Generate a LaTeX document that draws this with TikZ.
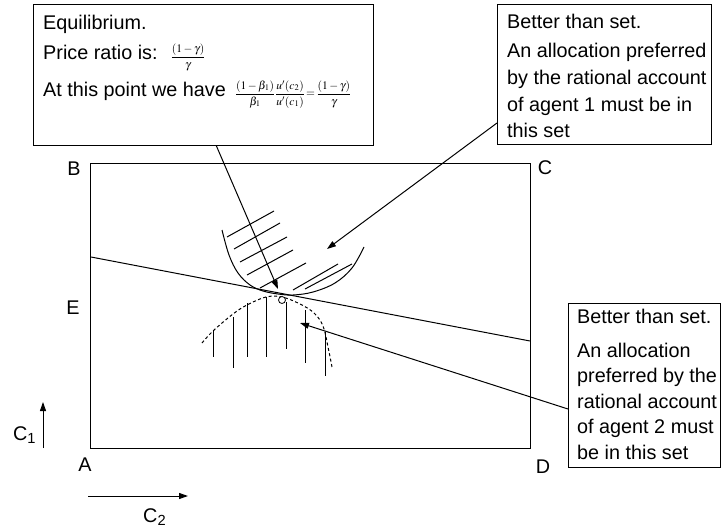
\documentclass[tikz,border=0pt]{standalone}
\usepackage{amsmath}
\usepackage{mathptmx}
\usepackage[no-math]{fontspec}
\setmainfont{Liberation Sans}
\usetikzlibrary{arrows.meta,calc}
\newcommand{\nup}{\rule[-2.5pt]{0pt}{2.5pt}}
\newcommand{\ndn}{\rule{0pt}{10pt}}
\begin{document}
\begin{tikzpicture}[x=1pt,y=-1pt,
  box/.style={draw, line width=0.8pt, inner sep=0pt},
  txt/.style={font=\fontsize{19.8}{26}\selectfont, align=left, inner sep=0pt},
  lbl/.style={font=\fontsize{19.8}{20}\selectfont, inner sep=0pt},
  ln/.style={line width=1pt},
  arr/.style={line width=1pt, -{Triangle[length=9pt,width=6pt]}},
  hatch/.style={line width=1pt}]
\useasboundingbox (0,0) rectangle (721,527);

% boxes
\node[box, minimum width=340, minimum height=141, anchor=north west] (lbox) at (33,4) {};
\node[box, minimum width=214, minimum height=140, anchor=north west] (tr) at (497,4) {};
\node[box, minimum width=152, minimum height=164, anchor=north west] (br) at (568,303) {};

% left box text
\node[txt, anchor=base west] (l1) at (43,30) {Equilibrium.};
\node[txt, anchor=base west] (l2) at (43,60) {Price ratio is:\hspace{13pt}{\fontsize{11.5}{12}\selectfont$\displaystyle\genfrac{}{}{0.3pt}{}{(1-\gamma)\nup}{\gamma\ndn}$}};
\node[txt, anchor=base west] (l3) at (43,97) {At this point we have\hspace{9pt}{\fontsize{11.5}{12}\selectfont$\displaystyle\genfrac{}{}{0.3pt}{}{(1-\beta_1)\nup}{\beta_1\ndn}\genfrac{}{}{0.3pt}{}{u'(c_2)\nup}{u'(c_1)\ndn}\mkern-2mu=\mkern-2mu\genfrac{}{}{0.3pt}{}{(1-\gamma)\nup}{\gamma\ndn}$}};

% top right text (anchored at the baseline of its last line)
\node[txt, anchor=base west, font=\fontsize{19.8}{26.7}\selectfont] (t1) at (507,138) {Better than set.\\[3pt]An allocation preferred\\by the rational account\\of agent 1 must be in\\this set};

% bottom right text (anchored at the baseline of its last line)
\node[txt, anchor=base west, font=\fontsize{19.8}{25.5}\selectfont] (b1) at (577,459) {Better than set.\\[8pt]An allocation\\preferred by the\\rational account\\of agent 2 must\\be in this set};

% main rectangle
\node[box, line width=1pt, minimum width=440, minimum height=285, anchor=north west] (rect) at (90,163) {};

% corner labels
\node[lbl] (B) at (74,169) {B};
\node[lbl] (C) at (545,168) {C};
\node[lbl] (E) at (73,308) {E};
\node[lbl] (A) at (85,465) {A};
\node[lbl] (D) at (543,467) {D};

% budget line
\coordinate (bl1) at (91,257);
\coordinate (bl2) at (530,341);
\draw[ln] (bl1) -- (bl2);

% indifference curve agent 1 (convex, solid)
\draw[ln] plot[smooth, tension=0.6] coordinates {(222,230) (229,255) (238,273) (250,285) (263,291) (278,294) (293,295) (313,292) (335,283) (352,268) (364,247)};
% hatching agent 1
\draw[hatch] (227,237) -- (274,211);
\draw[hatch] (234,249) -- (280,223);
\draw[hatch] (240,262) -- (287,237);
\draw[hatch] (247,275) -- (293,250);
\draw[hatch] (260,288) -- (306,263);
\draw[hatch] (293,290) -- (338,264);
\draw[hatch] (305,289) -- (352,264);

% indifference curve agent 2 (concave, dashed)
\draw[ln, dash pattern=on 3pt off 2.5pt] plot[smooth, tension=0.6] coordinates {(202,343) (213,331) (233,314) (247,305) (266,297) (282,297) (300,304) (314,313) (323,326) (328,347) (332,367)};
% hatching agent 2
\draw[hatch] (213,330) -- (213,357);
\draw[hatch] (233,317) -- (233,368);
\draw[hatch] (247,303) -- (247,357);
\draw[hatch] (266,297) -- (266,357);
\draw[hatch] (286,302) -- (286,349);
\draw[hatch] (305,310) -- (305,363);
\draw[hatch] (325,332) -- (325,376);

% equilibrium point
\node[draw, circle, line width=0.8pt, minimum size=7pt, inner sep=0pt, fill=white] (eqpt) at (282,300) {};

% callout arrows
\coordinate (tipA) at (278,289);
\coordinate (tipB) at (327,249);
\coordinate (tipC) at (300,323);
\draw[arr] ($(lbox.south west)!0.538!(lbox.south east)$) -- (tipA);
\draw[arr] (tr.west |- 0,123) -- (tipB);
\draw[arr] (br.west |- 0,409) -- (tipC);

% axes
\coordinate (c1a) at (43,448);
\coordinate (c1b) at (43,402);
\coordinate (c2a) at (88,496);
\coordinate (c2b) at (188,496);
\draw[arr] (c1a) -- (c1b);
\draw[arr] (c2a) -- (c2b);
\node[lbl, anchor=base west] (C1) at (13,440) {C\textsubscript{1}};
\node[lbl, anchor=base west] (C2) at (143,522) {C\textsubscript{2}};
\end{tikzpicture}
\end{document}
